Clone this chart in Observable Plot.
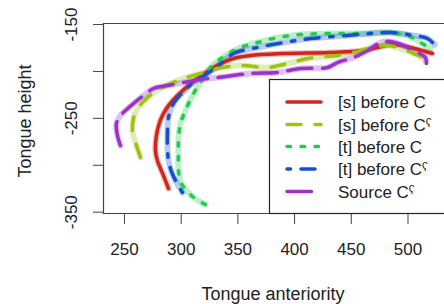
<!DOCTYPE html>
<html>
<head>
<meta charset="utf-8">
<script src="https://cdn.jsdelivr.net/npm/d3@7"></script>
<script src="https://cdn.jsdelivr.net/npm/@observablehq/plot@0.6"></script>
<style>
  html, body { margin: 0; padding: 0; background: #fff; }
  svg { font-family: "Liberation Sans", Arial, sans-serif; }
</style>
</head>
<body>
<div id="chart"></div>
<script>
// ---- data (tongue contours) ----
const seriesNames = ["[s] before C", "[s] before Cˤ", "[t] before C", "[t] before Cˤ", "Source Cˤ"];
const seriesColors = ["#d0261c", "#9cc40f", "#20cc50", "#1450cc", "#9b32d0"];
const seriesDash = ["none", "14,14", "3.5,10.5", "3.5,10.5,14,10.5", "24.5,10.5"];

const sBeforeC_x = [288.8, 284.4, 279, 277.3, 278.2, 281.7, 287, 295, 306.4, 317, 328.5, 346, 361, 390.2, 431.7, 460.7, 487.2, 502.2, 521.6];
const sBeforeC_y = [-324.8, -311, -295, -284, -268, -252, -239.5, -227.8, -215, -205.4, -195.8, -186.2, -183, -181, -179.8, -177.7, -171.3, -174.5, -180.9];

const sBeforeCp_x = [264.1, 260.6, 257.1, 257.9, 262.3, 270.3, 279.1, 290.6, 302, 317, 332, 352.3, 376.1, 393.7, 411.4, 437.8, 451.9, 469.6, 481.9, 493.4, 504.9, 513.7, 515.4];
const sBeforeCp_y = [-291.7, -278.9, -264, -250.2, -238.4, -227.8, -220.3, -212.9, -207.5, -202.2, -196.9, -193.7, -195.8, -191.6, -186.2, -183, -179.8, -174.5, -172.4, -175.6, -180.9, -186.2, -191.6];

const tBeforeC_x = [321.4, 313.5, 306.4, 300.3, 297.6, 297.6, 297.6, 299.4, 303.8, 310, 317, 325.8, 339, 352.3, 367.3, 385, 405.2, 429, 460.7, 481.9, 499.5, 511, 519.8];
const tBeforeC_y = [-341.8, -336.5, -329, -319.4, -305.6, -287.5, -273.6, -255.5, -241.6, -225.7, -211.8, -195.8, -183, -174.5, -169.2, -163.9, -160.7, -159.6, -159.6, -158.5, -161.7, -169.2, -175.6];

const tBeforeCp_x = [301.1, 295.9, 291.4, 288.8, 287.9, 287.9, 288.8, 293.2, 301.1, 310.8, 323.2, 332.9, 346.1, 367.3, 390.2, 414, 446.6, 467, 484.6, 504.9, 517.2, 524.2];
const tBeforeCp_y = [-329, -318.4, -306.6, -294.9, -281, -265, -249, -234.2, -222.5, -211.8, -202.2, -193.7, -180.9, -174.5, -169.2, -164.9, -161.7, -159.6, -158.5, -161.7, -164.9, -172.4];

const sourceCp_x = [246.5, 243.8, 242.9, 246.5, 250.9, 257.9, 266.8, 275.6, 287.9, 302, 317, 332, 361.1, 384.9, 405.2, 429, 437.8, 451.9, 464.3, 475.7, 484.6, 496, 508.4, 515.4, 516.3];
const sourceCp_y = [-279, -268.3, -255.5, -247, -241.6, -234.2, -225.7, -218.2, -215, -211.8, -208.6, -206.5, -202.2, -201.1, -196.9, -195.8, -190.5, -185.2, -177.7, -169.2, -168.1, -172.4, -179.8, -185.2, -191.6];

const xTicks = [250, 300, 350, 400, 450, 500];
const yTicks = [-150, -200, -250, -300, -350];
const yTickLabels = [-150, -250, -350];

const seriesX = [sBeforeC_x, sBeforeCp_x, tBeforeC_x, tBeforeCp_x, sourceCp_x];
const seriesY = [sBeforeC_y, sBeforeCp_y, tBeforeC_y, tBeforeCp_y, sourceCp_y];

// build tidy table
const series = seriesNames.map((name, i) => ({
  name, color: seriesColors[i], dash: seriesDash[i],
  points: seriesX[i].map((x, j) => ({x, y: seriesY[i][j], name}))
}));

const marks = [];
// fuzzy dotted band (raw samples look)
for (const s of series) {
  marks.push(Plot.line(s.points, {x: "x", y: "y", stroke: s.color, strokeWidth: 6, strokeOpacity: 0.3,
    strokeDasharray: "1.5,2.5", curve: "catmull-rom"}));
}
for (const s of series) {
  marks.push(Plot.line(s.points, {x: "x", y: "y", stroke: s.color, strokeWidth: 3.5,
    strokeDasharray: s.dash, strokeLinecap: "round", curve: "catmull-rom"}));
}

const chart = Plot.plot({
  width: 444,
  height: 304,
  marginTop: 23,
  marginBottom: 91,
  marginLeft: 103,
  marginRight: 0,
  style: {fontFamily: "Liberation Sans, Arial, sans-serif", fontSize: "17px", color: "#222", background: "#fff"},
  x: {domain: [231.5, 532.2]},
  y: {domain: [-351.4, -148.9]},
  marks: [
    ...marks,
    Plot.frame({anchor: "left", stroke: "#444", strokeWidth: 1.2}),
    Plot.frame({anchor: "top", stroke: "#444", strokeWidth: 1.2}),
    Plot.frame({anchor: "bottom", stroke: "#444", strokeWidth: 1.2}),
    Plot.axisX({ticks: xTicks, tickSize: 11, tickPadding: 18, label: null, stroke: "#444", fontSize: 17, tickFormat: d => String(d)}),
    Plot.axisY({ticks: yTicks, tickSize: 10, text: null, label: null, stroke: "#444"}),
    Plot.axisY({ticks: yTickLabels, tickSize: 0, tickPadding: 27, tickRotate: -90, label: null, fontSize: 17,
      tickFormat: d => (d < 0 ? "-" : "") + Math.abs(d)})
  ]
});

const svg = d3.select(chart);
// axis titles
svg.append("text").attr("x", 273).attr("y", 300).attr("text-anchor", "middle")
  .attr("font-size", 18).attr("fill", "#222").text("Tongue anteriority");
svg.append("text").attr("transform", "translate(31,121) rotate(-90)").attr("text-anchor", "middle")
  .attr("font-size", 18).attr("fill", "#222").text("Tongue height");

// legend
const lg = svg.append("g");
lg.append("rect").attr("x", 269.5).attr("y", 79.5).attr("width", 200).attr("height", 134)
  .attr("fill", "#fff").attr("stroke", "#222").attr("stroke-width", 1.2);
const rowY = [102, 124.5, 146.5, 169, 191.5];
series.forEach((s, i) => {
  lg.append("line").attr("x1", 287).attr("x2", 321).attr("y1", rowY[i]).attr("y2", rowY[i])
    .attr("stroke", s.color).attr("stroke-width", 3.5).attr("stroke-linecap", "round")
    .attr("stroke-dasharray", s.dash === "none" ? null : s.dash);
  lg.append("text").attr("x", 338).attr("y", rowY[i] + 6).attr("text-anchor", "start")
    .attr("font-size", 17).attr("fill", "#222").text(s.name);
});

document.getElementById("chart").appendChild(chart);
</script>
</body>
</html>
